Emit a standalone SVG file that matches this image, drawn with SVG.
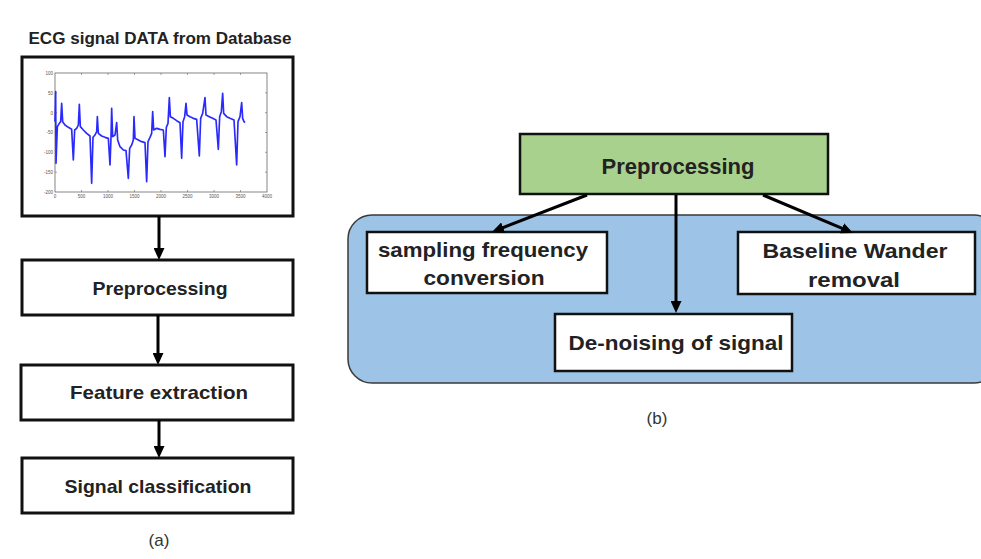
<svg xmlns="http://www.w3.org/2000/svg" width="981" height="559" viewBox="0 0 981 559">
<defs>
<marker id="ah" markerUnits="userSpaceOnUse" markerWidth="12" markerHeight="11" refX="8" refY="5.5" orient="auto">
<path d="M0,0 L12,5.5 L0,11 z" fill="#000"/>
</marker>
<style>
.box{fill:#fff;stroke:#111;stroke-width:3}
.rbox{fill:#fff;stroke:#111;stroke-width:2.5}
.t{font-family:"Liberation Sans",Arial,sans-serif;font-weight:bold;fill:#222;text-anchor:middle}
.cap{font-family:"Liberation Sans",Arial,sans-serif;font-size:17px;fill:#333;text-anchor:middle}
.tick{font-family:"Liberation Sans",Arial,sans-serif;font-size:4.5px;fill:#555}
.conn{stroke:#000;stroke-width:3;fill:none;marker-end:url(#ah)}
</style>
</defs>
<rect width="981" height="559" fill="#fff"/>

<text class="t" x="160" y="44" font-size="17" textLength="263" lengthAdjust="spacingAndGlyphs">ECG signal DATA from Database</text>

<g id="ecg-box">
<rect class="box" x="22" y="57" width="271" height="159"/>
<g id="plot">
<rect x="55" y="73" width="212" height="119" fill="#fff" stroke="#666" stroke-width="0.8"/>
<g stroke="#666" stroke-width="0.6">
<path d="M81.5,192v-2M108,192v-2M134.5,192v-2M161,192v-2M187.5,192v-2M214,192v-2M240.5,192v-2M81.5,73v2M108,73v2M134.5,73v2M161,73v2M187.5,73v2M214,73v2M240.5,73v2M55,92.8h2M55,112.7h2M55,132.5h2M55,152.3h2M55,172.2h2M267,92.8h-2M267,112.7h-2M267,132.5h-2M267,152.3h-2M267,172.2h-2"/>
</g>
<g class="tick" text-anchor="end">
<text x="53" y="75">100</text><text x="53" y="94.5">50</text><text x="53" y="114.5">0</text><text x="53" y="134">-50</text><text x="53" y="154">-100</text><text x="53" y="174">-150</text><text x="53" y="194">-200</text>
</g>
<g class="tick" text-anchor="middle">
<text x="55" y="198">0</text><text x="81.5" y="198">500</text><text x="108" y="198">1000</text><text x="134.5" y="198">1500</text><text x="161" y="198">2000</text><text x="187.5" y="198">2500</text><text x="214" y="198">3000</text><text x="240.5" y="198">3500</text><text x="267" y="198">4000</text>
</g>
<g transform="translate(40 50) scale(0.33333)">
<polyline fill="none" stroke="#2a2aff" stroke-width="5" stroke-linejoin="round" points="45,215 47,125 48,340 52,230 58,220 62,215 65,160 68,215 75,225 85,232 95,238 100,330 104,240 110,235 115,225 118,163 121,230 130,240 140,250 150,258 155,400 159,262 165,255 170,245 172,200 175,250 185,258 195,262 205,265 210,345 213,262 215,175 218,260 225,255 230,218 233,270 240,290 250,300 258,302 265,385 269,295 275,285 280,270 282,200 285,265 295,270 305,275 315,278 320,395 324,275 330,262 335,250 338,185 341,240 350,235 360,238 370,240 375,320 379,232 384,220 388,143 391,200 400,205 410,212 420,218 425,325 429,215 434,200 438,160 441,195 450,200 460,205 470,208 478,318 482,205 488,190 495,143 498,195 508,200 518,205 528,210 535,298 539,200 544,185 548,130 551,190 560,200 570,205 582,210 590,345 594,215 600,200 605,158 608,205 612,215 615,218"/>
</g>
</g>
</g>

<g id="pre-left">
<rect class="box" x="22" y="260" width="271" height="55"/>
<text class="t" x="160" y="295" font-size="19" textLength="135" lengthAdjust="spacingAndGlyphs">Preprocessing</text>
</g>
<g id="feature">
<rect class="box" x="21" y="365" width="272" height="55"/>
<text class="t" x="159" y="399" font-size="19" textLength="178" lengthAdjust="spacingAndGlyphs">Feature extraction</text>
</g>
<g id="classify">
<rect class="box" x="22" y="458" width="271" height="55"/>
<text class="t" x="158" y="493" font-size="19" textLength="187" lengthAdjust="spacingAndGlyphs">Signal classification</text>
</g>
<text class="cap" x="159" y="546">(a)</text>

<g id="group-bg">
<rect x="348" y="215" width="650" height="168" rx="24" ry="24" fill="#9dc3e6" stroke="#3a3a3a" stroke-width="1.5"/>
</g>
<g id="pre-right">
<rect x="520" y="134" width="308" height="60" fill="#a9d18e" stroke="#111" stroke-width="2.5"/>
<text class="t" x="678" y="174" font-size="22" textLength="153" lengthAdjust="spacingAndGlyphs">Preprocessing</text>
</g>
<g id="sampling">
<rect class="rbox" x="367" y="232" width="240" height="61"/>
<text class="t" x="483" y="257" font-size="21" textLength="210" lengthAdjust="spacingAndGlyphs">sampling frequency</text>
<text class="t" x="484" y="285" font-size="21" textLength="121" lengthAdjust="spacingAndGlyphs">conversion</text>
</g>
<g id="baseline">
<rect class="rbox" x="738" y="232" width="237" height="62"/>
<text class="t" x="855" y="258" font-size="21" textLength="185" lengthAdjust="spacingAndGlyphs">Baseline Wander</text>
<text class="t" x="854" y="287" font-size="21" textLength="92" lengthAdjust="spacingAndGlyphs">removal</text>
</g>
<g id="denoise">
<rect class="rbox" x="555" y="314" width="237" height="57"/>
<text class="t" x="676" y="350" font-size="21" textLength="215" lengthAdjust="spacingAndGlyphs">De-noising of signal</text>
</g>
<text class="cap" x="657" y="424">(b)</text>

<g id="connectors">
<line class="conn" x1="159" y1="216" x2="159" y2="256"/>
<line class="conn" x1="158" y1="315" x2="158" y2="361"/>
<line class="conn" x1="159" y1="420" x2="159" y2="454"/>
<line class="conn" x1="587" y1="195" x2="495.7" y2="230.5"/>
<line class="conn" x1="676" y1="195" x2="676" y2="309"/>
<line class="conn" x1="763" y1="195" x2="849.3" y2="231.4"/>
</g>
</svg>
